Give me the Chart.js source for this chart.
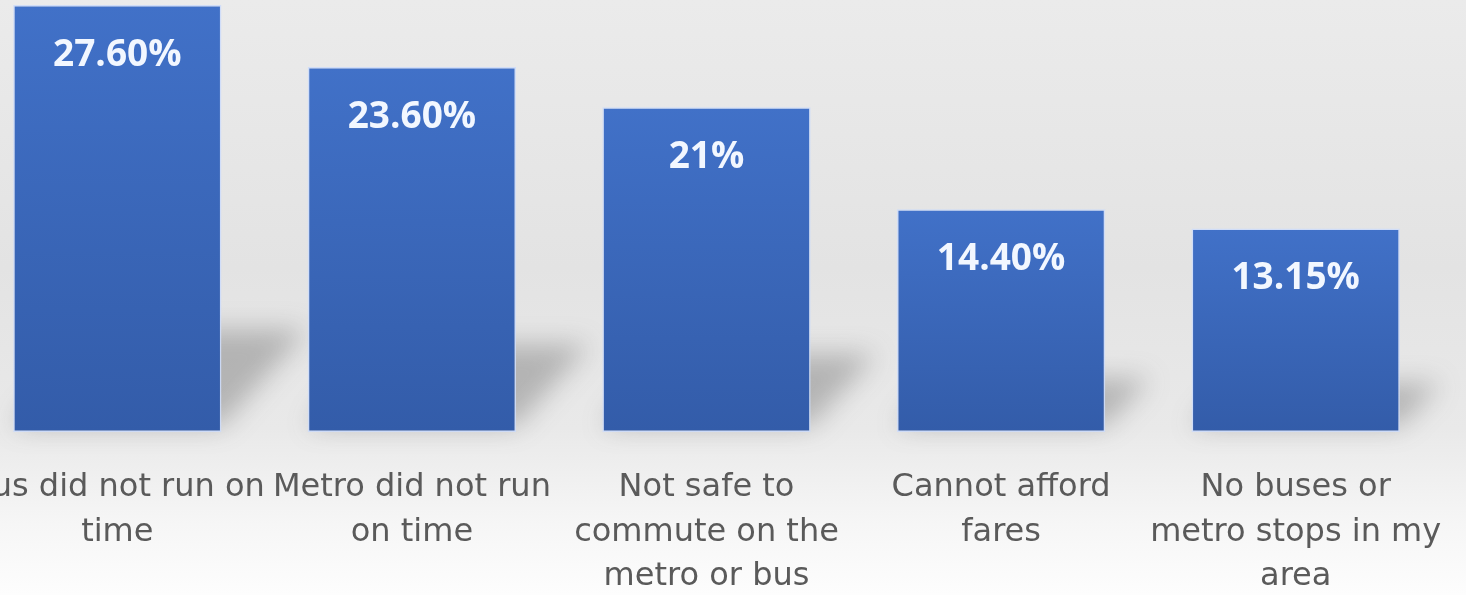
<!DOCTYPE html>
<html>
<head>
<meta charset="utf-8">
<script src="https://cdn.jsdelivr.net/npm/chart.js@4"></script>
<style>
  html, body { margin: 0; padding: 0; overflow: hidden; }
  body {
    width: 1466px; height: 595px;
    background: linear-gradient(to bottom, #ebebeb 0%, #e3e3e3 45%, #e9e9e9 72%, #f6f6f6 88%, #fdfdfd 100%);
  }
  #wrap { position: absolute; left: -30px; top: 0; width: 1496px; height: 595px; }
</style>
</head>
<body>
<div id="wrap"><canvas id="chart"></canvas></div>
<script>
// data
const categories = [
  ['Bus did not run on', 'time'],
  ['Metro did not run', 'on time'],
  ['Not safe to', 'commute on the', 'metro or bus'],
  ['Cannot afford', 'fares'],
  ['No buses or', 'metro stops in my', 'area']
];
const shares = [27.6, 23.6, 21, 14.4, 13.15];
const shareLabels = ['27.60%', '23.60%', '21%', '14.40%', '13.15%'];

// soft floor shadow behind each bar
const floorShadow = {
  id: 'floorShadow',
  beforeDatasetsDraw(chart) {
    const ctx = chart.ctx;
    const meta = chart.getDatasetMeta(0);
    ctx.save();
    ctx.filter = 'blur(13px)';
    ctx.fillStyle = 'rgba(70,70,70,0.32)';
    meta.data.forEach(bar => {
      const h = bar.base - bar.y;
      const left = bar.x - bar.width / 2;
      const right = bar.x + bar.width / 2;
      const dx = h * 0.2, dy = h * 0.24;
      ctx.beginPath();
      ctx.moveTo(left, bar.base - 6);
      ctx.lineTo(right, bar.base - 6);
      ctx.lineTo(right + dx, bar.base - dy);
      ctx.lineTo(left + dx, bar.base - dy);
      ctx.closePath();
      ctx.fill();
    });
    ctx.restore();
  }
};

// value labels inside the bars
const barValues = {
  id: 'barValues',
  afterDatasetsDraw(chart) {
    const ctx = chart.ctx;
    const meta = chart.getDatasetMeta(0);
    ctx.save();
    ctx.font = 'bold 37px "Open Sans"';
    ctx.fillStyle = '#f2f7ff';
    ctx.textAlign = 'center';
    ctx.textBaseline = 'middle';
    meta.data.forEach((bar, i) => {
      ctx.fillText(shareLabels[i], bar.x, bar.y + 50);
    });
    ctx.restore();
  }
};

function barFill(context) {
  const chart = context.chart;
  const y = chart.scales.y;
  if (!chart.chartArea || !y) return '#3a64b8';
  const top = y.getPixelForValue(shares[context.dataIndex]);
  const bottom = y.getPixelForValue(0);
  const g = chart.ctx.createLinearGradient(0, top, 0, bottom);
  g.addColorStop(0, '#4171c8');
  g.addColorStop(1, '#335ca9');
  return g;
}

new Chart(document.getElementById('chart'), {
  type: 'bar',
  data: {
    labels: categories,
    datasets: [{
      data: shares,
      backgroundColor: barFill,
      borderColor: 'rgba(205,220,250,0.9)',
      borderWidth: 1.5,
      borderSkipped: false,
      barPercentage: 0.707,
      categoryPercentage: 1
    }]
  },
  options: {
    responsive: true,
    maintainAspectRatio: false,
    animation: false,
    layout: { padding: { left: 0, right: 23, top: 0, bottom: 0 } },
    plugins: {
      legend: { display: false },
      tooltip: { enabled: false }
    },
    scales: {
      y: {
        display: false,
        min: 0,
        max: 27.93
      },
      x: {
        grid: { display: false, drawTicks: false },
        border: { display: false },
        ticks: {
          autoSkip: false,
          maxRotation: 0,
          minRotation: 0,
          padding: 33,
          color: '#5a5a5a',
          font: { family: '"DejaVu Sans"', size: 32, lineHeight: 1.4 }
        },
        afterFit(scale) {
          scale.height = 163;
          scale.paddingLeft = 0;
          scale.paddingRight = 0;
        }
      }
    }
  },
  plugins: [floorShadow, barValues]
});
</script>
</body>
</html>
